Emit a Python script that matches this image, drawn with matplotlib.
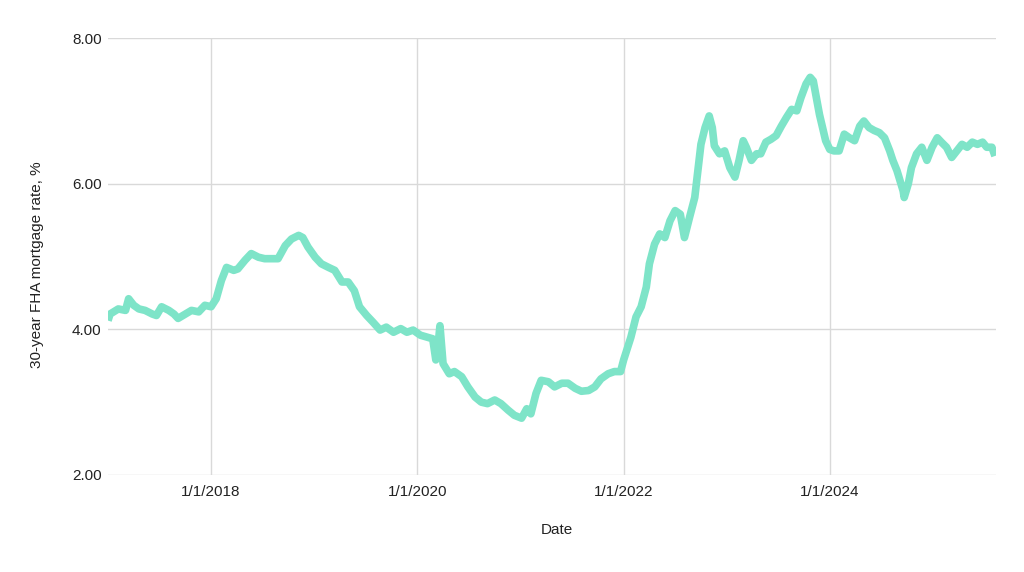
import matplotlib
matplotlib.use("Agg")
import matplotlib.pyplot as plt
import pandas as pd
import numpy as np

# decimal-year positions and 30-year FHA rate (%)
years = [
    2017.00, 2017.02, 2017.10, 2017.17, 2017.20, 2017.25, 2017.30, 2017.36, 2017.43, 2017.47,
    2017.52, 2017.59, 2017.64, 2017.68, 2017.75, 2017.81, 2017.88, 2017.94, 2018.00, 2018.05,
    2018.10, 2018.15, 2018.22, 2018.26, 2018.33, 2018.39, 2018.46, 2018.52, 2018.59, 2018.65,
    2018.72, 2018.78, 2018.85, 2018.89, 2018.94, 2019.01, 2019.07, 2019.14, 2019.20, 2019.27,
    2019.33, 2019.39, 2019.44, 2019.51, 2019.57, 2019.64, 2019.70, 2019.77, 2019.84, 2019.90,
    2019.96, 2020.03, 2020.10, 2020.15, 2020.18, 2020.20, 2020.22, 2020.25, 2020.31, 2020.36,
    2020.43, 2020.49, 2020.56, 2020.62, 2020.68, 2020.75, 2020.81, 2020.88, 2020.94, 2021.01,
    2021.06, 2021.10, 2021.15, 2021.20, 2021.27, 2021.33, 2021.40, 2021.46, 2021.53, 2021.59,
    2021.66, 2021.72, 2021.78, 2021.85, 2021.91, 2021.97, 2022.00, 2022.02, 2022.07, 2022.12,
    2022.17, 2022.22, 2022.25, 2022.30, 2022.35, 2022.40, 2022.45, 2022.50, 2022.55, 2022.59,
    2022.64, 2022.69, 2022.72, 2022.75, 2022.79, 2022.83, 2022.86, 2022.88, 2022.93, 2022.98,
    2023.03, 2023.08, 2023.12, 2023.16, 2023.19, 2023.24, 2023.29, 2023.33, 2023.38, 2023.43,
    2023.48, 2023.53, 2023.58, 2023.63, 2023.68, 2023.72, 2023.77, 2023.81, 2023.84, 2023.87,
    2023.90, 2023.93, 2023.96, 2024.00, 2024.04, 2024.09, 2024.14, 2024.19, 2024.24, 2024.29,
    2024.33, 2024.38, 2024.43, 2024.48, 2024.53, 2024.58, 2024.61, 2024.65, 2024.68, 2024.71,
    2024.72, 2024.76, 2024.79, 2024.84, 2024.89, 2024.94, 2024.99, 2025.04, 2025.08, 2025.13,
    2025.18, 2025.23, 2025.28, 2025.33, 2025.38, 2025.43, 2025.48, 2025.52, 2025.57, 2025.60,
]
rates = [
    4.12, 4.21, 4.28, 4.26, 4.42, 4.33, 4.28, 4.26, 4.21, 4.19,
    4.31, 4.26, 4.21, 4.15, 4.21, 4.26, 4.24, 4.33, 4.31, 4.42,
    4.67, 4.85, 4.81, 4.83, 4.95, 5.04, 4.99, 4.97, 4.97, 4.97,
    5.15, 5.24, 5.29, 5.26, 5.13, 4.99, 4.90, 4.85, 4.81, 4.65,
    4.65, 4.53, 4.31, 4.19, 4.10, 3.99, 4.03, 3.96, 4.01, 3.96,
    3.99, 3.92, 3.89, 3.87, 3.58, 3.75, 4.05, 3.53, 3.39, 3.42,
    3.35, 3.21, 3.07, 3.00, 2.98, 3.03, 2.98, 2.89, 2.82, 2.78,
    2.91, 2.84, 3.12, 3.30, 3.28, 3.21, 3.26, 3.26, 3.19, 3.15,
    3.16, 3.21, 3.32, 3.39, 3.42, 3.42, 3.58, 3.67, 3.89, 4.17,
    4.31, 4.58, 4.90, 5.17, 5.31, 5.26, 5.49, 5.63, 5.58, 5.26,
    5.54, 5.81, 6.18, 6.54, 6.77, 6.93, 6.77, 6.52, 6.41, 6.45,
    6.22, 6.09, 6.32, 6.59, 6.50, 6.32, 6.41, 6.41, 6.57, 6.61,
    6.66, 6.79, 6.91, 7.02, 7.00, 7.18, 7.37, 7.46, 7.41, 7.18,
    6.95, 6.77, 6.59, 6.47, 6.45, 6.45, 6.68, 6.63, 6.59, 6.79,
    6.86, 6.77, 6.73, 6.70, 6.63, 6.45, 6.32, 6.18, 6.04, 5.90,
    5.81, 6.00, 6.22, 6.41, 6.50, 6.32, 6.50, 6.63, 6.57, 6.50,
    6.36, 6.45, 6.54, 6.50, 6.57, 6.54, 6.57, 6.50, 6.50, 6.38,
]
y_ticks = [2.0, 4.0, 6.0, 8.0]
y_tick_labels = ["2.00", "4.00", "6.00", "8.00"]
x_tick_labels = ["1/1/2018", "1/1/2020", "1/1/2022", "1/1/2024"]
y_label = "30-year FHA mortgage rate, %"
x_label = "Date"

def dec_to_dt(y):
    yr = int(np.floor(y))
    start = pd.Timestamp(year=yr, month=1, day=1)
    end = pd.Timestamp(year=yr + 1, month=1, day=1)
    return start + (end - start) * (y - yr)

dates = [dec_to_dt(y) for y in years]
tick_dates = [pd.Timestamp(s) for s in ["2018-01-01", "2020-01-01", "2022-01-01", "2024-01-01"]]

plt.rcParams['font.family'] = ['Liberation Sans', 'DejaVu Sans']

fig = plt.figure(figsize=(10.24, 5.72), dpi=100)
ax = fig.add_axes([108/1024, 1 - 475/572, (996 - 108)/1024, (475 - 38)/572])

ax.plot(dates, rates, color="#7ee4c8", linewidth=5.5, solid_joinstyle="round",
        solid_capstyle="butt", zorder=3)

ax.set_ylim(2.0, 8.0)
ax.set_xlim(dec_to_dt(2017.0), dec_to_dt(2025.61))
ax.set_yticks(y_ticks)
ax.set_yticklabels(y_tick_labels)
ax.set_xticks(tick_dates)
ax.set_xticklabels(x_tick_labels)

ax.grid(True, color="#d9d9d9", linewidth=1.0, zorder=0)
ax.set_axisbelow(True)
for s in ax.spines.values():
    s.set_visible(False)
ax.tick_params(axis="both", length=0, labelsize=11, colors="#222222")
ax.tick_params(axis="y", pad=4.5)
ax.tick_params(axis="x", pad=7)

ax.set_ylabel(y_label, fontsize=11, color="#222222")
ax.yaxis.set_label_coords((44 - 108) / 888, (475 - 265) / 437)
ax.set_xlabel(x_label, fontsize=11, color="#222222")
ax.xaxis.set_label_coords((557 - 108) / 888, (475 - 523) / 437)

fig.savefig("out.png", dpi=100, facecolor="white")
